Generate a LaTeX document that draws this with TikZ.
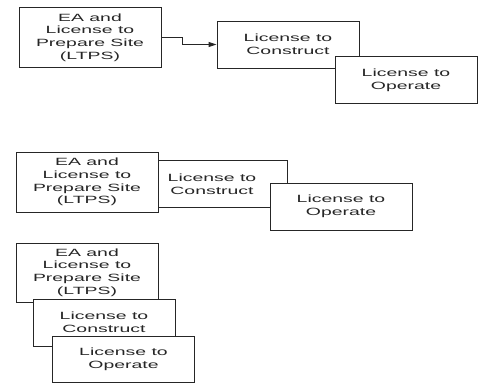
\documentclass[tikz,border=0pt]{standalone}
\usepackage{fontspec}
\newfontfamily\boxfont[FakeStretch=1.85]{Liberation Sans}
\usetikzlibrary{arrows.meta}
\begin{document}
\begin{tikzpicture}[x=1pt,y=-1pt,
  box/.style={draw=black!85, line width=0.9pt, fill=white, align=center, inner sep=0pt,
    font=\boxfont\fontsize{10.5pt}{12.8pt}\selectfont, text=black!85},
  bigbox/.style={box, minimum width=142pt, minimum height=60pt},
  smallbox/.style={box, minimum width=142pt, minimum height=47pt},
  conn/.style={draw=black!85, line width=0.9pt, -{Triangle[length=8pt,width=5pt]}}]
\useasboundingbox (0,0) rectangle (478,385);
% group 1
\node[bigbox] (A1) at (90,37.5) {EA and\\License to\\Prepare Site\\(LTPS)};
\node[smallbox] (B1) at (288,44.5) {License to\\Construct};
\node[smallbox] (C1) at (406,80) {License to\\Operate};
\draw[conn] (A1.east) -- ++(21,0) |- (B1.west);
% group 2
\node[smallbox] (B2) at (216,184) {\hspace*{-8pt}License to\\\hspace*{-8pt}Construct};
\node[bigbox] (A2) at (87,182) {EA and\\License to\\Prepare Site\\(LTPS)};
\node[smallbox] (C2) at (341,206.5) {License to\\Operate};
% group 3
\node[bigbox, minimum height=59pt] (A3) at (87,272.5) {EA and\\License to\\Prepare Site\\(LTPS)};
\node[smallbox] (B3) at (104,322.5) {License to\\Construct};
\node[smallbox, minimum height=46pt] (C3) at (123.5,359) {License to\\Operate};
\end{tikzpicture}
\end{document}
